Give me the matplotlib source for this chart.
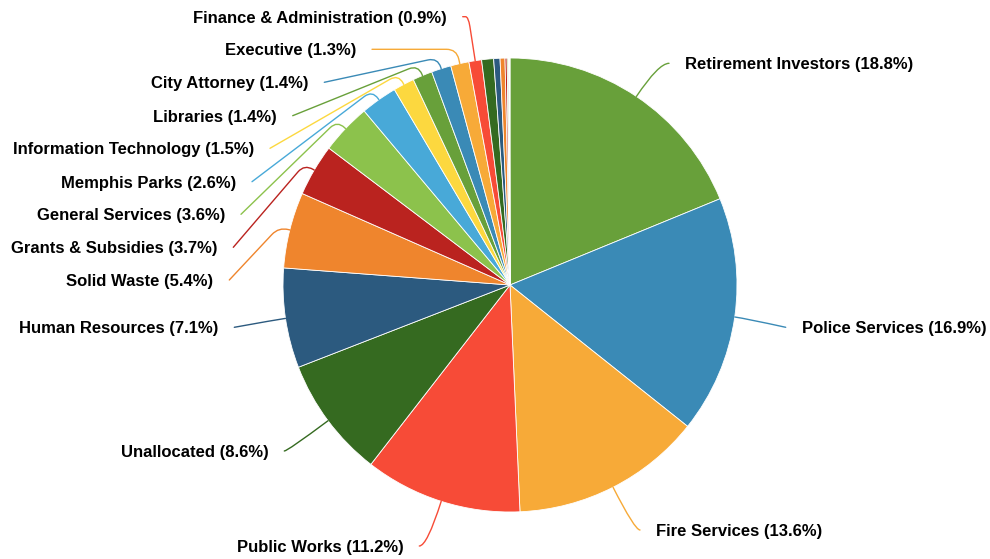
import numpy as np
import matplotlib
matplotlib.use("Agg")
import matplotlib.pyplot as plt
from matplotlib.path import Path
from matplotlib.patches import PathPatch

# ---------------- data ----------------
categories = ["Retirement Investors", "Police Services", "Fire Services", "Public Works",
              "Unallocated", "Human Resources", "Solid Waste", "Grants & Subsidies",
              "General Services", "Memphis Parks", "Information Technology", "Libraries",
              "City Attorney", "Executive", "Finance & Administration"]
values = [18.8, 16.9, 13.6, 11.2, 8.6, 7.1, 5.4, 3.7, 3.6, 2.6, 1.5, 1.4, 1.4, 1.3, 0.9]
# small unlabeled departments
other_values = [0.85, 0.45, 0.35, 0.15, 0.1, 0.05, 0.05]

palette = ["#68a03a", "#3a8ab6", "#f7aa38", "#f74b37", "#356a20", "#2c5a7f",
           "#ef852d", "#ba231f", "#8cc24c", "#48a9d8", "#fcd83f"]

# ---------------- layout (pixels) ----------------
W, H, DPI = 990, 559, 100
CX, CY, R = 510, 285, 227
label_pos = [(685, 63.3, "left"), (801.7, 327.3, "left"), (656, 530, "left"),
             (403.3, 546, "right"), (268.3, 451, "right"), (218.3, 327.3, "right"),
             (213.3, 280, "right"), (217.3, 247.3, "right"), (225, 214.3, "right"),
             (236, 181.7, "right"), (254, 148.3, "right"), (276.7, 115.7, "right"),
             (308.3, 82.3, "right"), (356, 49.3, "right"), (446.7, 16.7, "right")]
GAP = 16

fig = plt.figure(figsize=(W / DPI, H / DPI), dpi=DPI)
ax = fig.add_axes([0, 0, 1, 1])

all_values = values + other_values
colors = [palette[i % len(palette)] for i in range(len(all_values))]
wedges, _ = ax.pie(all_values, colors=colors, startangle=90, counterclock=False,
                   radius=1, center=(0, 0),
                   wedgeprops=dict(edgecolor="white", linewidth=0.6))

ax.set_aspect("auto")
ax.set_xlim(-CX / R, (W - CX) / R)
ax.set_ylim(-(H - CY) / R, CY / R)
ax.axis("off")


def to_data(px, py):
    return np.array([(px - CX) / R, (CY - py) / R])


for i, (name, val) in enumerate(zip(categories, values)):
    w = wedges[i]
    m = np.deg2rad((w.theta1 + w.theta2) / 2)
    u = np.array([np.cos(m), np.sin(m)])
    E = u.copy()
    tx, ty, ha = label_pos[i]
    lx = tx - GAP if ha == "left" else tx + GAP
    L = to_data(lx, ty)
    rc = 1.05
    if abs(u[1]) > 0.05:
        ry = L[1] / u[1]
        if 1.0 < ry < 1.25:
            rc = ry
    K = rc * u
    col = colors[i]
    if val >= 6:
        verts = [E, K, L]
        codes = [Path.MOVETO, Path.CURVE3, Path.CURVE3]
    else:
        c = 10 / R
        A = K - min(c, rc - 1.0) * u
        dvec = L - K
        dl = np.linalg.norm(dvec)
        c2 = min(c, 0.5 * dl)
        B = K + c2 * dvec / dl
        verts = [E, A, K, B, L]
        codes = [Path.MOVETO, Path.LINETO, Path.CURVE3, Path.CURVE3, Path.LINETO]
    ax.add_patch(PathPatch(Path(verts, codes), fill=False, edgecolor=col, lw=1.0,
                           capstyle="round"))
    T = to_data(tx, ty)
    ax.text(T[0], T[1], f"{name} ({val:.1f}%)", ha=ha, va="center_baseline",
            fontsize=12, fontweight="bold", color="#000000",
            family=["Liberation Sans", "DejaVu Sans"])

fig.savefig("out.png", dpi=DPI)
